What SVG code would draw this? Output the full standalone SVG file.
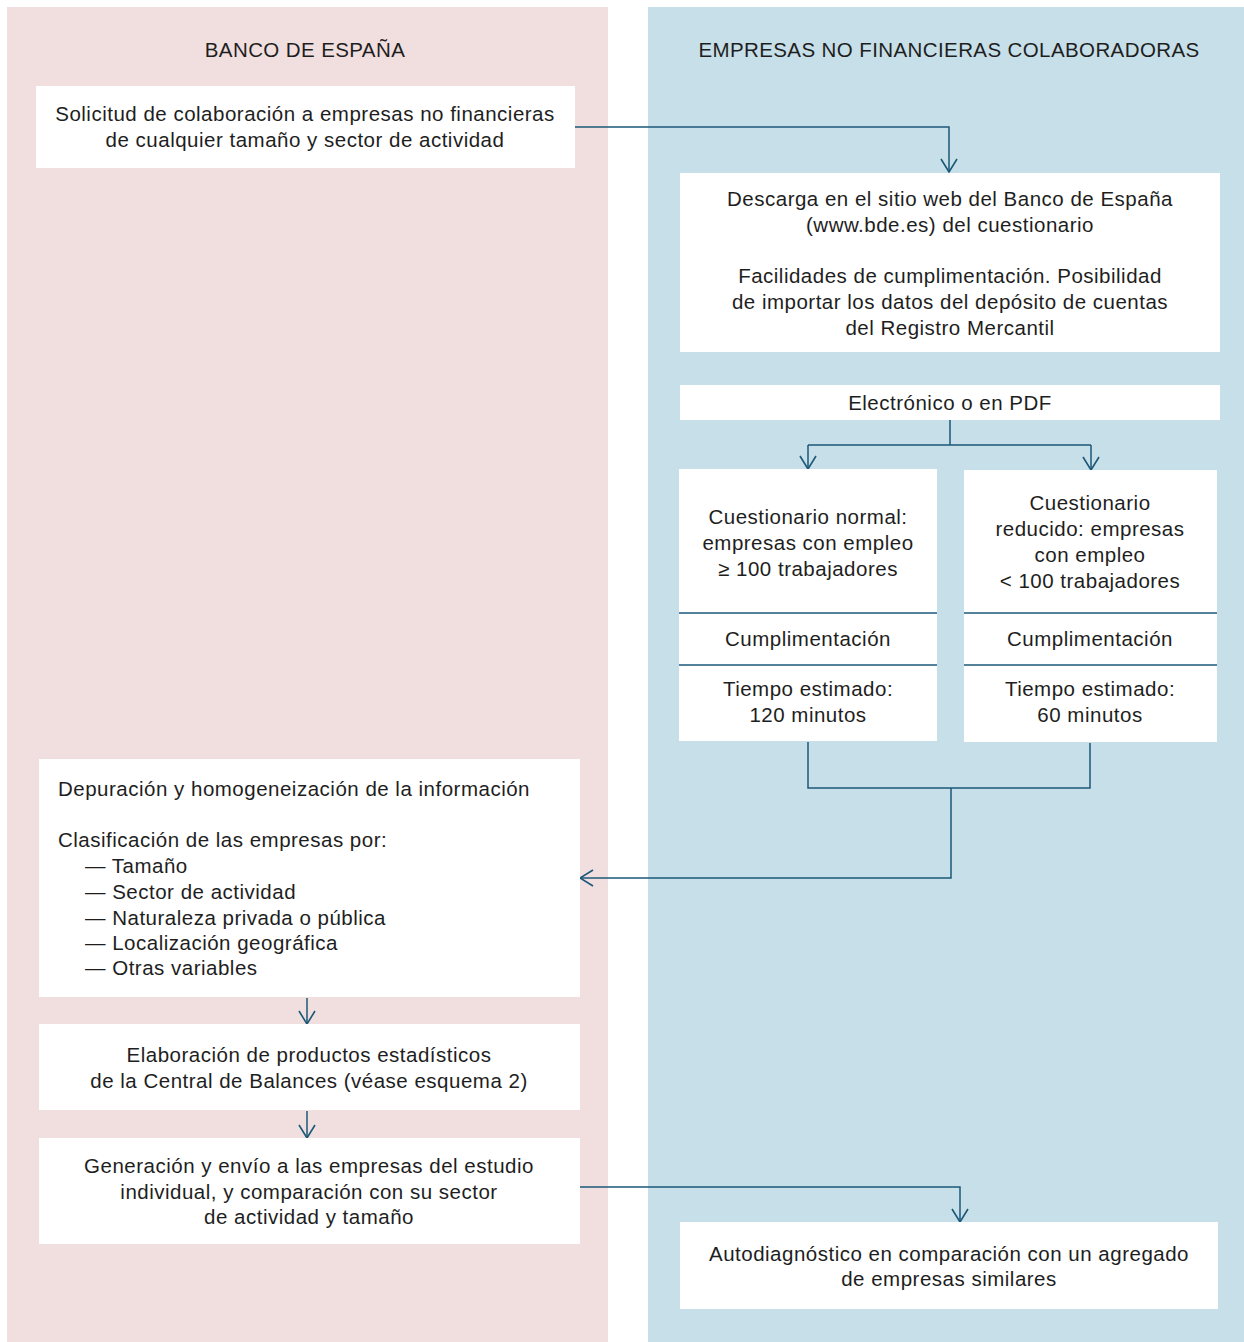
<svg xmlns="http://www.w3.org/2000/svg" width="1244" height="1342" viewBox="0 0 1244 1342">
<defs>
<style>
.t{font-family:"Liberation Sans",Arial,sans-serif;font-size:20.5px;letter-spacing:0.5px;fill:#1e1e1e;text-anchor:middle}
.h{letter-spacing:0.4px}
.l{text-anchor:start}
.box{fill:#ffffff}
.c{fill:none;stroke:#1b5878;stroke-width:1.5}
.div{stroke:#1b5878;stroke-width:1.3}
</style>
<marker id="ah" viewBox="0 0 16 18" refX="15" refY="9" markerWidth="16" markerHeight="18" markerUnits="userSpaceOnUse" orient="auto">
<path d="M2,1 L15,9 L2,17" fill="none" stroke="#1b5878" stroke-width="1.6"/>
</marker>
</defs>
<rect width="1244" height="1342" fill="#ffffff"/>
<rect id="lane-left" x="7" y="7" width="601" height="1335" fill="#f1dfe0"/>
<rect id="lane-right" x="648" y="7" width="596" height="1335" fill="#c7dfe8"/>
<text class="t h" x="305" y="57">BANCO DE ESPAÑA</text>
<text class="t h" x="949" y="57">EMPRESAS NO FINANCIERAS COLABORADORAS</text>

<g id="connectors">
<path class="c" d="M575,127 H949 V172" marker-end="url(#ah)"/>
<path class="c" d="M950,420 V445"/>
<path class="c" d="M808,445 H1091"/>
<path class="c" d="M808,445 V469" marker-end="url(#ah)"/>
<path class="c" d="M1091,445 V470" marker-end="url(#ah)"/>
<path class="c" d="M808,742 V788 H1090 V743"/>
<path class="c" d="M951,788 V878 H580" marker-end="url(#ah)"/>
<path class="c" d="M307,998 V1024" marker-end="url(#ah)"/>
<path class="c" d="M307,1111 V1138" marker-end="url(#ah)"/>
<path class="c" d="M580,1187 H960 V1222" marker-end="url(#ah)"/>
</g>

<g id="n-solicitud">
<rect class="box" x="36" y="86" width="539" height="82"/>
<text class="t" x="305" y="121">Solicitud de colaboración a empresas no financieras</text>
<text class="t" x="305" y="147">de cualquier tamaño y sector de actividad</text>
</g>

<g id="n-descarga">
<rect class="box" x="680" y="173" width="540" height="179"/>
<text class="t" x="950" y="206">Descarga en el sitio web del Banco de España</text>
<text class="t" x="950" y="232">(www.bde.es) del cuestionario</text>
<text class="t" x="950" y="283">Facilidades de cumplimentación. Posibilidad</text>
<text class="t" x="950" y="309">de importar los datos del depósito de cuentas</text>
<text class="t" x="950" y="335">del Registro Mercantil</text>
</g>

<g id="n-electronico">
<rect class="box" x="680" y="385" width="540" height="35"/>
<text class="t" x="950" y="410">Electrónico o en PDF</text>
</g>

<g id="n-normal">
<rect class="box" x="679" y="469" width="258" height="272"/>
<line class="div" x1="679" y1="613" x2="937" y2="613"/>
<line class="div" x1="679" y1="665" x2="937" y2="665"/>
<text class="t" x="808" y="524">Cuestionario normal:</text>
<text class="t" x="808" y="550">empresas con empleo</text>
<text class="t" x="808" y="576">≥ 100 trabajadores</text>
<text class="t" x="808" y="646">Cumplimentación</text>
<text class="t" x="808" y="696">Tiempo estimado:</text>
<text class="t" x="808" y="722">120 minutos</text>
</g>

<g id="n-reducido">
<rect class="box" x="964" y="470" width="253" height="272"/>
<line class="div" x1="964" y1="613" x2="1217" y2="613"/>
<line class="div" x1="964" y1="665" x2="1217" y2="665"/>
<text class="t" x="1090" y="510">Cuestionario</text>
<text class="t" x="1090" y="536">reducido: empresas</text>
<text class="t" x="1090" y="562">con empleo</text>
<text class="t" x="1090" y="588">&lt; 100 trabajadores</text>
<text class="t" x="1090" y="646">Cumplimentación</text>
<text class="t" x="1090" y="696">Tiempo estimado:</text>
<text class="t" x="1090" y="722">60 minutos</text>
</g>

<g id="n-depuracion">
<rect class="box" x="39" y="759" width="541" height="238"/>
<text class="t l" x="58" y="796">Depuración y homogeneización de la información</text>
<text class="t l" x="58" y="847">Clasificación de las empresas por:</text>
<text class="t l" x="85" y="873">— Tamaño</text>
<text class="t l" x="85" y="899">— Sector de actividad</text>
<text class="t l" x="85" y="925">— Naturaleza privada o pública</text>
<text class="t l" x="85" y="950">— Localización geográfica</text>
<text class="t l" x="85" y="975">— Otras variables</text>
</g>

<g id="n-elaboracion">
<rect class="box" x="39" y="1024" width="541" height="86"/>
<text class="t" x="309" y="1062">Elaboración de productos estadísticos</text>
<text class="t" x="309" y="1088">de la Central de Balances (véase esquema 2)</text>
</g>

<g id="n-generacion">
<rect class="box" x="39" y="1138" width="541" height="106"/>
<text class="t" x="309" y="1173">Generación y envío a las empresas del estudio</text>
<text class="t" x="309" y="1199">individual, y comparación con su sector</text>
<text class="t" x="309" y="1224">de actividad y tamaño</text>
</g>

<g id="n-autodiagnostico">
<rect class="box" x="680" y="1222" width="538" height="87"/>
<text class="t" x="949" y="1261">Autodiagnóstico en comparación con un agregado</text>
<text class="t" x="949" y="1286">de empresas similares</text>
</g>
</svg>
